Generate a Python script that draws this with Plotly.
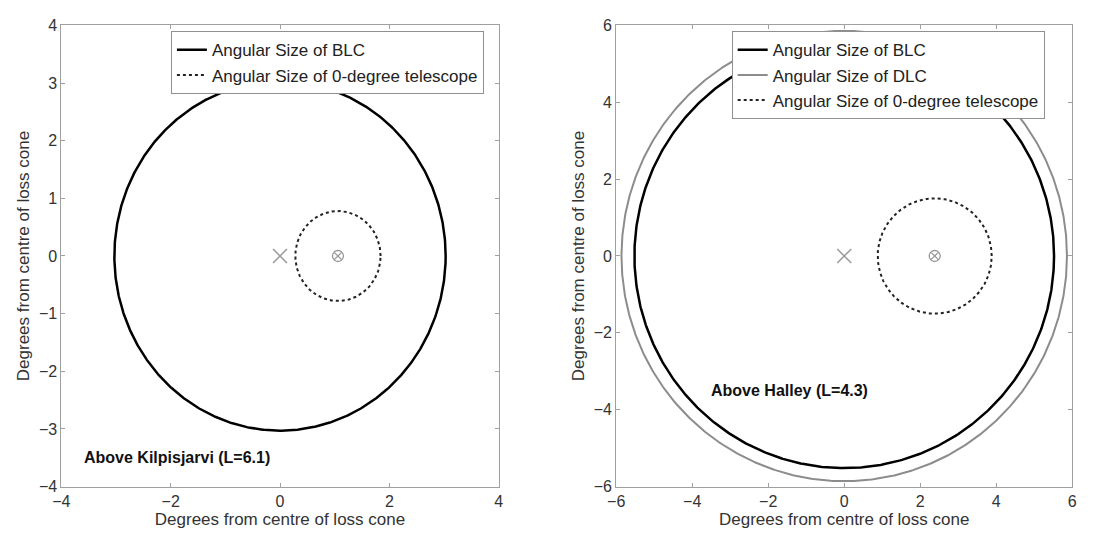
import numpy as np
import plotly.graph_objects as go

# ---- data ----
panel_labels = ["Above Kilpisjarvi (L=6.1)", "Above Halley (L=4.3)"]
axis_ranges = [4, 6]
tick_steps_x = [2, 2]
tick_steps_y = [1, 2]

blc_centre = [(0.0, 0.0), (0.0, 0.0)]
blc_radius = [3.03, 5.52]
dlc_centre = [None, (0.0, 0.0)]
dlc_radius = [None, 5.86]
tel_centre = [(1.06, 0.0), (2.38, 0.0)]
tel_radius = [0.78, 1.50]
loss_cone_centre = [(0.0, 0.0), (0.0, 0.0)]
label_pos = [(-3.62, -3.5), (-3.55, -3.5)]

theta = np.linspace(0, 2 * np.pi, 721)


def circle(c, r):
    return c[0] + r * np.cos(theta), c[1] + r * np.sin(theta)


FONT = "Arial, Liberation Sans"
fig = go.Figure()

x_domains = [[53 / 1100, 496 / 1100], [615 / 1100, 1077 / 1100]]
y_domain = [1 - 494 / 544, 1 - 18 / 544]
legend_pos = [(164 / 1100, 1 - 24 / 544), (732 / 1100, 1 - 24 / 544)]

for i in range(2):
    xa = "x" if i == 0 else "x2"
    ya = "y" if i == 0 else "y2"
    lg = "legend" if i == 0 else "legend2"
    # BLC
    x, y = circle(blc_centre[i], blc_radius[i])
    fig.add_trace(go.Scatter(x=x, y=y, mode="lines", name="Angular Size of BLC",
                             line=dict(color="black", width=2.5),
                             xaxis=xa, yaxis=ya, legend=lg))
    # DLC
    if dlc_radius[i] is not None:
        x, y = circle(dlc_centre[i], dlc_radius[i])
        fig.add_trace(go.Scatter(x=x, y=y, mode="lines", name="Angular Size of DLC",
                                 line=dict(color="#8c8c8c", width=2),
                                 xaxis=xa, yaxis=ya, legend=lg))
    # telescope
    x, y = circle(tel_centre[i], tel_radius[i])
    fig.add_trace(go.Scatter(x=x, y=y, mode="lines", name="Angular Size of 0-degree telescope",
                             line=dict(color="#222222", width=2, dash="dot"),
                             xaxis=xa, yaxis=ya, legend=lg))
    # markers
    fig.add_trace(go.Scatter(x=[loss_cone_centre[i][0]], y=[loss_cone_centre[i][1]], mode="markers",
                             marker=dict(symbol="x-thin-open", size=14, color="#9a9a9a",
                                         line=dict(color="#9a9a9a", width=1.5)),
                             showlegend=False, xaxis=xa, yaxis=ya))
    fig.add_trace(go.Scatter(x=[tel_centre[i][0]], y=[tel_centre[i][1]], mode="markers",
                             marker=dict(symbol="circle-x-open", size=11, color="#9a9a9a",
                                         line=dict(color="#9a9a9a", width=1.3)),
                             showlegend=False, xaxis=xa, yaxis=ya))
    fig.add_annotation(x=label_pos[i][0], y=label_pos[i][1], xref=xa, yref=ya,
                       text="<b>" + panel_labels[i] + "</b>",
                       showarrow=False, xanchor="left", yanchor="middle",
                       font=dict(family=FONT, size=16, color="#111"))

axis_common = dict(showgrid=False, zeroline=False, showline=True, linecolor="#a0a0a0",
                   linewidth=1, mirror="ticks", ticks="inside", ticklen=4, tickcolor="#a0a0a0",
                   tickfont=dict(family=FONT, size=16, color="#333"),
                   title_font=dict(family=FONT, size=17, color="#333"))

for i in range(2):
    suffix = "" if i == 0 else "2"
    R = axis_ranges[i]
    fig.update_layout(**{
        "xaxis" + suffix: dict(domain=x_domains[i], range=[-R, R], dtick=tick_steps_x[i],
                               tick0=0, anchor="y" + suffix,
                               title=dict(text="Degrees from centre of loss cone", standoff=2),
                               **axis_common),
        "yaxis" + suffix: dict(domain=y_domain, range=[-R, R], dtick=tick_steps_y[i],
                               tick0=0, anchor="x" + suffix,
                               title=dict(text="Degrees from centre of loss cone", standoff=4),
                               **axis_common),
    })

legend_common = dict(bgcolor="white", bordercolor="#909090", borderwidth=1,
                     font=dict(family=FONT, size=17, color="#222"),
                     xanchor="left", yanchor="top", tracegroupgap=0, itemwidth=30)
fig.update_layout(
    legend=dict(x=legend_pos[0][0], y=legend_pos[0][1], xref="paper", yref="paper", **legend_common),
    legend2=dict(x=legend_pos[1][0], y=legend_pos[1][1], xref="paper", yref="paper", **legend_common),
    width=1100, height=544, margin=dict(l=0, r=0, t=0, b=0),
    paper_bgcolor="white", plot_bgcolor="white", showlegend=True,
)

fig.write_html("out.html")
